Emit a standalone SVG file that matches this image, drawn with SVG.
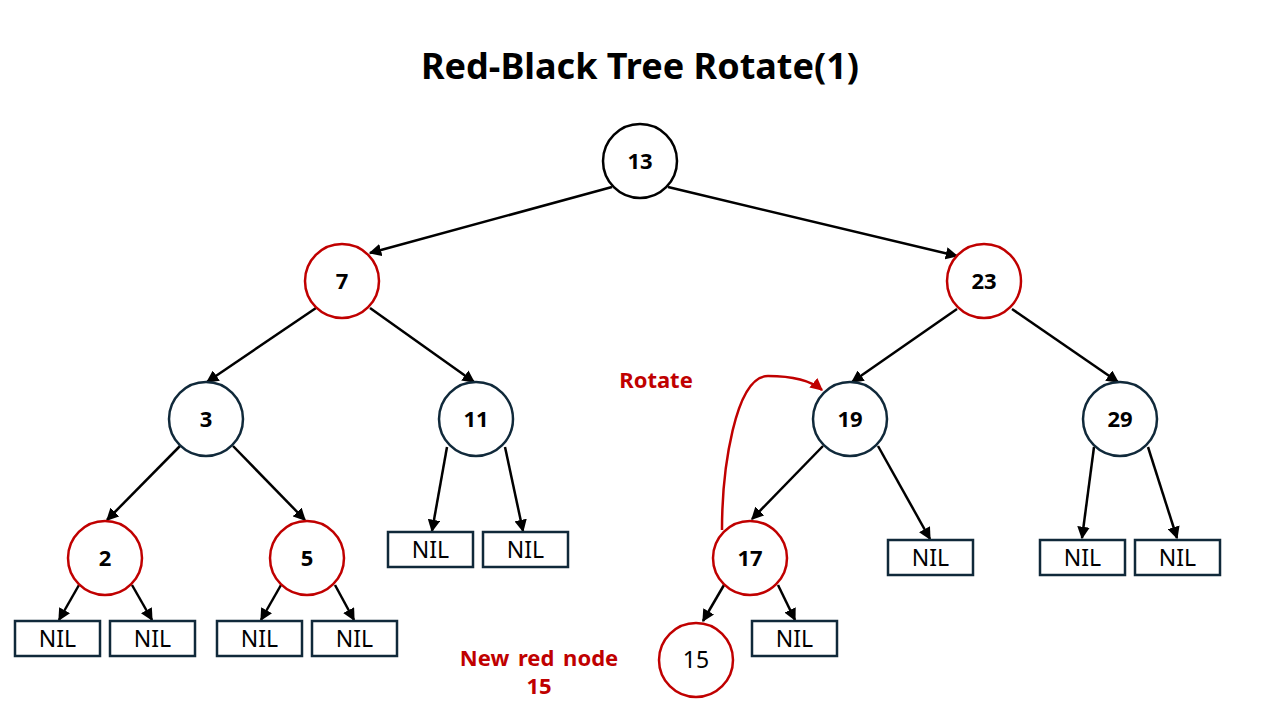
<svg xmlns="http://www.w3.org/2000/svg" width="1280" height="720" viewBox="0 0 1280 720">
  <style>
    .title { font-family: "Noto Sans", "Open Sans", sans-serif; font-weight: bold; font-size: 36px; fill: #000; }
    .num { font-family: "Noto Sans", "Open Sans", sans-serif; font-weight: bold; font-size: 22px; fill: #000; }
    .num-reg { font-family: "Noto Sans", "Open Sans", sans-serif; font-size: 23px; fill: #000; }
    .nil { font-family: "Noto Sans", "Open Sans", sans-serif; font-size: 23px; fill: #000; }
    .note { font-family: "Noto Sans", "Open Sans", sans-serif; font-weight: bold; font-size: 22px; fill: #C00000; word-spacing: 3px; }
    .black { fill: #fff; stroke: #000; stroke-width: 2.5; }
    .red { fill: #fff; stroke: #C00000; stroke-width: 2.5; }
    .dark { fill: #fff; stroke: #10293A; stroke-width: 2.5; }
    .box { fill: #fff; stroke: #10293A; stroke-width: 2.5; }
    .edge { stroke: #000; stroke-width: 2.5; fill: none; marker-end: url(#arr); }
    .rot { stroke: #C00000; stroke-width: 2.5; fill: none; marker-end: url(#arrRed); }
  </style>
  <defs>
    <marker id="arr" viewBox="0 0 10 10" refX="9" refY="5" markerWidth="5" markerHeight="5" orient="auto" markerUnits="strokeWidth">
      <path d="M0,0 L10,5 L0,10 z" fill="#000"/>
    </marker>
    <marker id="arrRed" viewBox="0 0 10 10" refX="9" refY="5" markerWidth="5" markerHeight="5" orient="auto" markerUnits="strokeWidth">
      <path d="M0,0 L10,5 L0,10 z" fill="#C00000"/>
    </marker>
  </defs>

  <text class="title" x="640" y="79" text-anchor="middle">Red-Black Tree Rotate(1)</text>

  <!-- connectors -->
  <g id="connectors">
    <line class="edge" x1="612" y1="187" x2="370" y2="253"/>
    <line class="edge" x1="668" y1="187" x2="957" y2="256"/>
    <line class="edge" x1="316" y1="308" x2="207" y2="382"/>
    <line class="edge" x1="370" y1="308" x2="474" y2="382"/>
    <line class="edge" x1="180" y1="446" x2="107" y2="520"/>
    <line class="edge" x1="233" y1="446" x2="305" y2="520"/>
    <line class="edge" x1="447" y1="447" x2="432" y2="531"/>
    <line class="edge" x1="505" y1="447" x2="523" y2="531"/>
    <line class="edge" x1="957" y1="309" x2="852" y2="382"/>
    <line class="edge" x1="1012" y1="309" x2="1118" y2="382"/>
    <line class="edge" x1="823" y1="446" x2="752" y2="519"/>
    <line class="edge" x1="878" y1="446" x2="930" y2="539"/>
    <line class="edge" x1="1094" y1="447" x2="1082" y2="538"/>
    <line class="edge" x1="1148" y1="447" x2="1177" y2="538"/>
    <line class="edge" x1="79" y1="585" x2="59" y2="620"/>
    <line class="edge" x1="132" y1="585" x2="152" y2="620"/>
    <line class="edge" x1="281" y1="585" x2="261" y2="620"/>
    <line class="edge" x1="335" y1="585" x2="354" y2="620"/>
    <line class="edge" x1="724" y1="585" x2="703" y2="621"/>
    <line class="edge" x1="778" y1="585" x2="795" y2="620"/>
    <path class="rot" d="M722,530 C722,470 735,376 768,376 C792,376 810,380 822,390"/>
  </g>

  <!-- nodes -->
  <g id="n13"><circle class="black" cx="640" cy="161" r="37"/><text class="num" x="640" y="169" text-anchor="middle">13</text></g>
  <g id="n7"><circle class="red" cx="342" cy="281" r="37"/><text class="num" x="342" y="289" text-anchor="middle">7</text></g>
  <g id="n23"><circle class="red" cx="984" cy="281" r="37"/><text class="num" x="984" y="289" text-anchor="middle">23</text></g>
  <g id="n3"><circle class="dark" cx="206" cy="419" r="37"/><text class="num" x="206" y="427" text-anchor="middle">3</text></g>
  <g id="n11"><circle class="dark" cx="476" cy="419" r="37"/><text class="num" x="476" y="427" text-anchor="middle">11</text></g>
  <g id="n19"><circle class="dark" cx="850" cy="419" r="37"/><text class="num" x="850" y="427" text-anchor="middle">19</text></g>
  <g id="n29"><circle class="dark" cx="1120" cy="419" r="37"/><text class="num" x="1120" y="427" text-anchor="middle">29</text></g>
  <g id="n2"><circle class="red" cx="105" cy="558" r="37"/><text class="num" x="105" y="566" text-anchor="middle">2</text></g>
  <g id="n5"><circle class="red" cx="307" cy="558" r="37"/><text class="num" x="307" y="566" text-anchor="middle">5</text></g>
  <g id="n17"><circle class="red" cx="750" cy="558" r="37"/><text class="num" x="750" y="566" text-anchor="middle">17</text></g>
  <g id="n15"><circle class="red" cx="696" cy="660" r="37"/><text class="num-reg" x="696" y="668" text-anchor="middle">15</text></g>

  <!-- NIL leaves -->
  <g id="nil2a"><rect class="box" x="15" y="621" width="85" height="35"/><text class="nil" x="57.5" y="647" text-anchor="middle">NIL</text></g>
  <g id="nil2b"><rect class="box" x="110" y="621" width="85" height="35"/><text class="nil" x="152.5" y="647" text-anchor="middle">NIL</text></g>
  <g id="nil5a"><rect class="box" x="217" y="621" width="85" height="35"/><text class="nil" x="259.5" y="647" text-anchor="middle">NIL</text></g>
  <g id="nil5b"><rect class="box" x="312" y="621" width="85" height="35"/><text class="nil" x="354.5" y="647" text-anchor="middle">NIL</text></g>
  <g id="nil11a"><rect class="box" x="388" y="532" width="85" height="35"/><text class="nil" x="430.5" y="558" text-anchor="middle">NIL</text></g>
  <g id="nil11b"><rect class="box" x="483" y="532" width="85" height="35"/><text class="nil" x="525.5" y="558" text-anchor="middle">NIL</text></g>
  <g id="nil19"><rect class="box" x="888" y="540" width="85" height="35"/><text class="nil" x="930.5" y="566" text-anchor="middle">NIL</text></g>
  <g id="nil29a"><rect class="box" x="1040" y="540" width="85" height="35"/><text class="nil" x="1082.5" y="566" text-anchor="middle">NIL</text></g>
  <g id="nil29b"><rect class="box" x="1135" y="540" width="85" height="35"/><text class="nil" x="1177.5" y="566" text-anchor="middle">NIL</text></g>
  <g id="nil17"><rect class="box" x="752" y="621" width="85" height="35"/><text class="nil" x="794.5" y="647" text-anchor="middle">NIL</text></g>

  <!-- annotations -->
  <text class="note" x="656" y="388" text-anchor="middle">Rotate</text>
  <text class="note" x="539" y="666" text-anchor="middle">New red node</text>
  <text class="note" x="539" y="694" text-anchor="middle">15</text>
</svg>
